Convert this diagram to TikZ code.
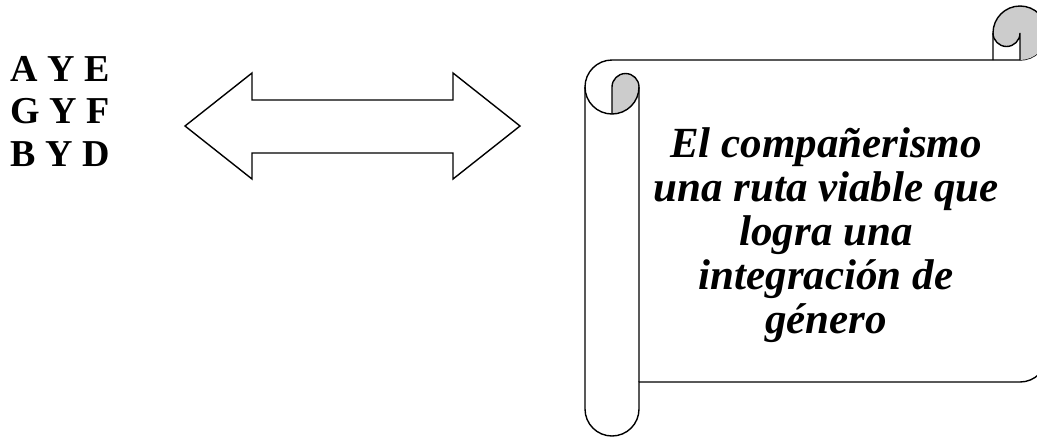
\documentclass[tikz,border=0pt]{standalone}
\usepackage{fontspec}
\setmainfont{Liberation Serif}
\usepackage{tikz}

\begin{document}
\begin{tikzpicture}[x=0.5pt,y=0.5pt,line width=0.7pt]
	\useasboundingbox (0,0) rectangle (1037,436);
	\node[anchor=base west,align=left,inner sep=0pt,font=\fontsize{19}{21.25}\selectfont\bfseries] (pares) at (10,270) {A Y E\\G Y F\\B Y D};
	\draw (185,310) -- (252,363) -- (252,336) -- (453,336) -- (453,363) -- (520,310) -- (453,257) -- (453,283) -- (252,283) -- (252,257) -- cycle;
	\draw[fill=white] (585,349) arc[start angle=180,end angle=90,radius=27] -- (1020,376) arc[start angle=270,end angle=360,radius=27] -- (1047,81) arc[start angle=0,end angle=-90,radius=27] -- (639,54) -- (639,27) arc[start angle=0,end angle=-180,radius=27] -- cycle;
	\fill[black!20] (612,349) arc[start angle=180,end angle=0,radius=13.5] arc[start angle=0,end angle=-90,radius=27] -- cycle;
	\draw (612,322) -- (612,349) arc[start angle=180,end angle=0,radius=13.5] -- (639,54);
	\draw (585,349) arc[start angle=180,end angle=360,radius=27];
	\fill[black!20] (993,403) arc[start angle=180,end angle=-90,radius=27] -- (1020,403) arc[start angle=0,end angle=-180,radius=13.5] -- cycle;
	\draw (993,376) -- (993,403) arc[start angle=180,end angle=0,radius=27];
	\draw (1020,376) -- (1020,403) arc[start angle=0,end angle=-180,radius=13.5];
	\node[anchor=base,align=center,inner sep=0pt,font=\fontsize{21.5}{22}\selectfont\bfseries\itshape] (lema) at (826,103) {El compañerismo\\una ruta viable que\\logra una\\integración de\\género};
\end{tikzpicture}
\end{document}
